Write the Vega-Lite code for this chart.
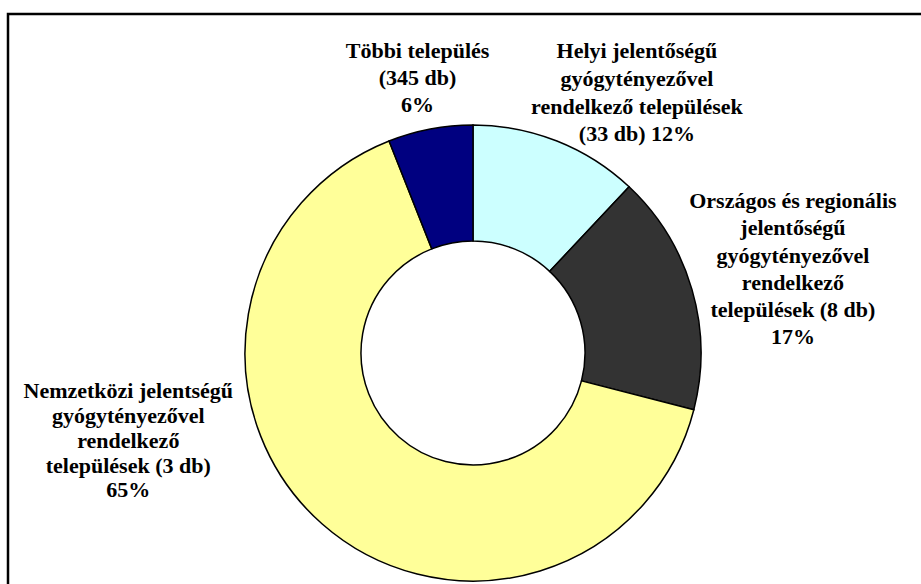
{
  "$schema": "https://vega.github.io/schema/vega-lite/v6.json",
  "autosize": {"type": "none"},
  "width": 930,
  "height": 678,
  "padding": {"left": 8, "top": 14, "right": -17, "bottom": -108},
  "background": "white",
  "config": {"view": {"stroke": "black", "strokeWidth": 2.5}},
  "data": {
    "values": [
      {"ord": 1, "name": "Helyi", "value": 12, "label": "Helyi jelentőségű\ngyógytényezővel\nrendelkező települések\n(33 db) 12%"},
      {"ord": 2, "name": "Országos", "value": 17, "label": "Országos és regionális\njelentőségű\ngyógytényezővel\nrendelkező\ntelepülések (8 db)\n17%"},
      {"ord": 3, "name": "Nemzetközi", "value": 65, "label": "Nemzetközi jelentségű\ngyógytényezővel\nrendelkező\ntelepülések (3 db)\n65%"},
      {"ord": 4, "name": "Többi", "value": 6, "label": "Többi település\n(345 db)\n6%"}
    ]
  },
  "layer": [
    {
      "mark": {"type": "point", "opacity": 0},
      "encoding": {
        "x": {"field": "value", "type": "quantitative", "axis": null},
        "y": {"field": "ord", "type": "quantitative", "axis": null}
      }
    },
    {
      "mark": {"type": "arc", "innerRadius": 112, "outerRadius": 228, "stroke": "black", "strokeWidth": 1.5},
      "encoding": {
        "theta": {"field": "value", "type": "quantitative", "stack": true},
        "order": {"field": "ord", "type": "quantitative", "sort": "ascending"},
        "color": {
          "field": "name", "type": "nominal", "legend": null,
          "scale": {"domain": ["Helyi", "Országos", "Nemzetközi", "Többi"], "range": ["#CCFFFF", "#333333", "#FFFF99", "#000080"]}
        }
      }
    },
    {
      "mark": {"type": "text", "radius": 304, "dx": 52, "dy": -19, "font": "Liberation Serif", "fontWeight": "bold", "fontSize": 22, "lineHeight": 27.7, "lineBreak": "\n", "align": "center", "baseline": "middle", "color": "black"},
      "encoding": {
        "theta": {"field": "value", "type": "quantitative", "stack": true},
        "order": {"field": "ord", "type": "quantitative", "sort": "ascending"},
        "text": {"condition": {"test": "datum.name === 'Helyi'", "field": "label"}, "value": ""}
      }
    },
    {
      "mark": {"type": "text", "radius": 330, "dx": 3, "dy": -60, "font": "Liberation Serif", "fontWeight": "bold", "fontSize": 22, "lineHeight": 27.3, "lineBreak": "\n", "align": "center", "baseline": "middle", "color": "black"},
      "encoding": {
        "theta": {"field": "value", "type": "quantitative", "stack": true},
        "order": {"field": "ord", "type": "quantitative", "sort": "ascending"},
        "text": {"condition": {"test": "datum.name === 'Országos'", "field": "label"}, "value": ""}
      }
    },
    {
      "mark": {"type": "text", "radius": 299, "dx": -147, "dy": -186, "font": "Liberation Serif", "fontWeight": "bold", "fontSize": 22, "lineHeight": 24.8, "lineBreak": "\n", "align": "center", "baseline": "middle", "color": "black"},
      "encoding": {
        "theta": {"field": "value", "type": "quantitative", "stack": true},
        "order": {"field": "ord", "type": "quantitative", "sort": "ascending"},
        "text": {"condition": {"test": "datum.name === 'Nemzetközi'", "field": "label"}, "value": ""}
      }
    },
    {
      "mark": {"type": "text", "radius": 280, "dx": -3, "dy": -27, "font": "Liberation Serif", "fontWeight": "bold", "fontSize": 22, "lineHeight": 27, "lineBreak": "\n", "align": "center", "baseline": "middle", "color": "black"},
      "encoding": {
        "theta": {"field": "value", "type": "quantitative", "stack": true},
        "order": {"field": "ord", "type": "quantitative", "sort": "ascending"},
        "text": {"condition": {"test": "datum.name === 'Többi'", "field": "label"}, "value": ""}
      }
    }
  ]
}
